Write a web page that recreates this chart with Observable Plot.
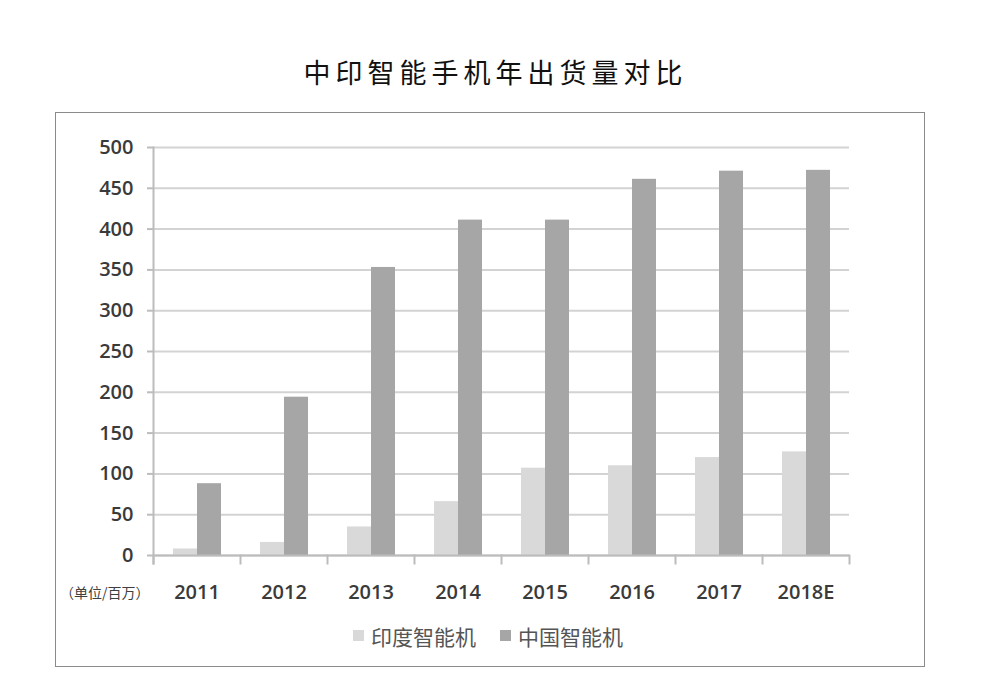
<!DOCTYPE html>
<html>
<head>
<meta charset="utf-8">
<script src="https://cdn.jsdelivr.net/npm/d3@7"></script>
<script src="https://cdn.jsdelivr.net/npm/@observablehq/plot@0.6"></script>
<style>
  html, body { margin: 0; padding: 0; background: #ffffff; }
  #wrap { position: relative; width: 991px; height: 683px; overflow: hidden; background: #fff; }
  #title { position: absolute; left: 0; width: 991px; top: 52px; text-align: center;
    font-family: "Noto Sans CJK SC", sans-serif; font-size: 27px; letter-spacing: 5px; color: #111; }
  #box { position: absolute; left: 55px; top: 112px; width: 868px; height: 553px;
    border: 1.5px solid #8a8a8a; pointer-events: none; z-index: 2; }
  #chart { position: absolute; left: 0; top: 0; z-index: 1; }
  #unit { position: absolute; left: 60px; top: 582px; font-family: "Noto Sans CJK SC", sans-serif;
    font-size: 14px; color: #404040; z-index: 3; }
  #legend { position: absolute; left: 0; width: 976px; top: 617px; text-align: center;
    font-family: "Noto Sans CJK SC", sans-serif; font-size: 21px; color: #555; z-index: 3; }
  .item { display: inline-flex; align-items: center; margin: 0 12px; }
  .sw { display: inline-block; width: 11px; height: 11px; margin-right: 7px; }
</style>
</head>
<body>
<div id="wrap">
  <div id="title"></div>
  <div id="chart"></div>
  <div id="box"></div>
  <div id="unit"></div>
  <div id="legend"></div>
</div>
<script>
const titleText = "中印智能手机年出货量对比";
const unitText = "（单位/百万）";
const years = ["2011", "2012", "2013", "2014", "2015", "2016", "2017", "2018E"];
const seriesNames = ["印度智能机", "中国智能机"];
const indiaValues = [8, 16, 35, 66, 107, 110, 120, 127];
const chinaValues = [88, 194, 353, 411, 411, 461, 471, 472];
const yTicks = [0, 50, 100, 150, 200, 250, 300, 350, 400, 450, 500];
const seriesColors = ["#d9d9d9", "#a6a6a6"];

const data = years.flatMap((y, i) => [
  {year: y, series: seriesNames[0], value: indiaValues[i]},
  {year: y, series: seriesNames[1], value: chinaValues[i]}
]);

document.getElementById("title").textContent = titleText;
document.getElementById("unit").textContent = unitText;

const W = 991, H = 683, mT = 147, mB = 128, mL = 151, mR = 141;
const innerH = H - mT - mB;
const axisColor = "#bcbcbc";

const chart = Plot.plot({
  width: W,
  height: H,
  marginTop: mT,
  marginBottom: mB,
  marginLeft: mL,
  marginRight: mR,
  style: {fontFamily: "'Open Sans', 'Liberation Sans', sans-serif", fontSize: "20px", fontWeight: 600, color: "#3a3a3a", background: "transparent"},
  fx: {domain: years, padding: 0, label: null},
  x: {domain: seriesNames, paddingInner: 0, paddingOuter: 0.79, axis: null},
  y: {domain: [0, 500], label: null},
  color: {domain: seriesNames, range: seriesColors},
  marks: [
    Plot.gridY(yTicks, {stroke: "#d3d3d3", strokeOpacity: 1, strokeWidth: 2}),
    Plot.barY(data, {fx: "year", x: "series", y: "value", fill: "series"}),
    Plot.ruleY([0], {stroke: axisColor, strokeWidth: 2}),
    Plot.frame({anchor: "left", facetAnchor: "left", stroke: axisColor, strokeWidth: 2, insetBottom: -8}),
    Plot.frame({anchor: "left", stroke: axisColor, strokeWidth: 2, insetTop: innerH, insetBottom: -8}),
    Plot.frame({anchor: "right", facetAnchor: "right", stroke: axisColor, strokeWidth: 2, insetTop: innerH, insetBottom: -8}),
    Plot.axisY(yTicks, {tickSize: 6, tickPadding: 14, stroke: axisColor, strokeWidth: 2, label: null, fontSize: 20, fill: "#3a3a3a"}),
    Plot.axisFx({anchor: "bottom", tickSize: 0, tickPadding: 29, label: null, fontSize: 20, fill: "#3a3a3a"})
  ]
});
document.getElementById("chart").appendChild(chart);

const legend = d3.select("#legend");
seriesNames.forEach((name, i) => {
  const item = legend.append("span").attr("class", "item");
  item.append("span").attr("class", "sw").style("background", seriesColors[i]);
  item.append("span").text(name);
});
</script>
</body>
</html>
